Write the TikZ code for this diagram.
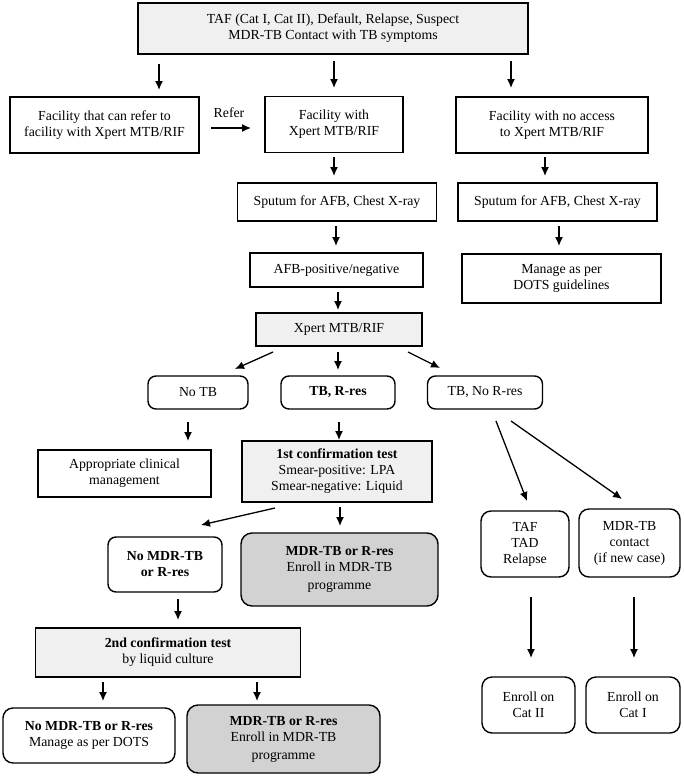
\documentclass[tikz,border=0pt]{standalone}
\usepackage{fontspec}
\setmainfont{Liberation Serif}
\usetikzlibrary{arrows.meta}
\definecolor{lightfill}{HTML}{F0F0F0}
\definecolor{darkfill}{HTML}{D2D2D2}
\begin{document}
\begin{tikzpicture}[x=1pt,y=-1pt,
  box/.style={draw, line width=1.4pt, align=center, inner sep=0pt,
    font=\fontsize{13.8pt}{16pt}\selectfont},
  sqbox/.style={box},
  graybox/.style={box, fill=lightfill},
  rbox/.style={box, rounded corners=8pt},
  dbox/.style={box, rounded corners=11pt, fill=darkfill},
  arr/.style={line width=1.3pt, -{Latex[length=9pt,width=8pt]}},
  lbl/.style={font=\fontsize{13.8pt}{16pt}\selectfont, inner sep=0pt}
]
\useasboundingbox (0,0) rectangle (684,777);

% nodes
\node[graybox, minimum width=390, minimum height=51] (top) at (333,28.5)
  {TAF (Cat I, Cat II), Default, Relapse, Suspect\\MDR-TB Contact with TB symptoms};
\node[sqbox, minimum width=189, minimum height=56] (refbox) at (104.5,125)
  {Facility that can refer to\\facility with Xpert MTB/RIF};
\node[sqbox, minimum width=138, minimum height=56] (xfac) at (334,124.5)
  {Facility with\\Xpert MTB/RIF};
\node[sqbox, minimum width=192, minimum height=56] (nofac) at (552,125)
  {Facility with no access\\to Xpert MTB/RIF};
\node[sqbox, minimum width=199, minimum height=38] (spL) at (337,202)
  {Sputum for AFB, Chest X-ray};
\node[sqbox, minimum width=199, minimum height=38] (spR) at (557.5,202)
  {Sputum for AFB, Chest X-ray};
\node[sqbox, minimum width=173, minimum height=34] (afb) at (336.5,270)
  {AFB-positive/negative};
\node[sqbox, minimum width=199, minimum height=49] (manage) at (561.5,278.5)
  {Manage as per\\DOTS guidelines};
\node[graybox, minimum width=166, minimum height=33] (xpert) at (339,329.5)
  {Xpert MTB/RIF};
\node[rbox, minimum width=100, minimum height=33] (notb) at (198,392.5)
  {No TB};
\node[rbox, minimum width=114, minimum height=33] (tbr) at (338,392.5)
  {\textbf{TB, R-res}};
\node[rbox, minimum width=115, minimum height=33] (tbnor) at (485,392.5)
  {TB, No R-res};
\node[sqbox, minimum width=173, minimum height=47] (appr) at (124.5,473.5)
  {Appropriate clinical\\management};
\node[graybox, minimum width=190, minimum height=61] (conf1) at (337,471.5)
  {\textbf{1st confirmation test}\\Smear-positive: LPA\\Smear-negative: Liquid};
\node[rbox, minimum width=114, minimum height=55] (nomdr1) at (165,564.5)
  {\textbf{No MDR-TB}\\\textbf{or R-res}};
\node[dbox, minimum width=197, minimum height=73] (mdr1) at (339.5,569.5)
  {\textbf{MDR-TB or R-res}\\Enroll in MDR-TB\\[2pt]programme};
\node[rbox, rounded corners=10pt, minimum width=88, minimum height=66] (taf) at (525,544)
  {TAF\\TAD\\Relapse};
\node[rbox, rounded corners=10pt, minimum width=101, minimum height=68] (contact) at (629.5,543)
  {MDR-TB\\contact\\(if new case)};
\node[graybox, minimum width=265, minimum height=49] (conf2) at (168,652.5)
  {\textbf{2nd confirmation test}\\by liquid culture};
\node[rbox, rounded corners=10pt, minimum width=172, minimum height=55] (nomdr2) at (89,735.5)
  {\textbf{No MDR-TB or R-res}\\Manage as per DOTS};
\node[dbox, minimum width=193, minimum height=68] (mdr2) at (283.5,739)
  {\textbf{MDR-TB or R-res}\\Enroll in MDR-TB\\[2pt]programme};
\node[rbox, rounded corners=10pt, minimum width=93, minimum height=56] (cat2) at (528.5,705)
  {Enroll on\\Cat II};
\node[rbox, rounded corners=10pt, minimum width=94, minimum height=56] (cat1) at (633,705)
  {Enroll on\\Cat I};

% arrow end points
\coordinate (a1s) at (159,64);  \coordinate (a1e) at (159,90);
\coordinate (a2s) at (334,61);  \coordinate (a2e) at (334,88);
\coordinate (a3s) at (511,61);  \coordinate (a3e) at (511,88);
\coordinate (a4s) at (211,128); \coordinate (a4e) at (251,128);
\coordinate (a5s) at (334,157); \coordinate (a5e) at (334,176);
\coordinate (a6s) at (545,157); \coordinate (a6e) at (545,176);
\coordinate (a7s) at (336,226); \coordinate (a7e) at (336,246);
\coordinate (a8s) at (559,226); \coordinate (a8e) at (559,246);
\coordinate (a9s) at (338,292); \coordinate (a9e) at (338,310);
\coordinate (a10s) at (273,352); \coordinate (a10e) at (235,369);
\coordinate (a11s) at (338,352); \coordinate (a11e) at (338,370);
\coordinate (a12s) at (408,352); \coordinate (a12e) at (440,368);
\coordinate (a13s) at (188,422); \coordinate (a13e) at (188,441);
\coordinate (a14s) at (339,422); \coordinate (a14e) at (339,440);
\coordinate (a15s) at (496,421); \coordinate (a15e) at (527,501);
\coordinate (a16s) at (511,421); \coordinate (a16e) at (622,499);
\coordinate (a17s) at (275,508); \coordinate (a17e) at (201,525);
\coordinate (a18s) at (340,507); \coordinate (a18e) at (340,526);
\coordinate (a19s) at (178,599); \coordinate (a19e) at (178,620);
\coordinate (a20s) at (531,597); \coordinate (a20e) at (531,658);
\coordinate (a21s) at (634,597); \coordinate (a21e) at (634,658);
\coordinate (a22s) at (103,682); \coordinate (a22e) at (103,701);
\coordinate (a23s) at (257,682); \coordinate (a23e) at (257,701);

\foreach \i in {1,...,23} {\draw[arr] (a\i s) -- (a\i e);}

\node[lbl] (referlbl) at (229,113) {Refer};
\end{tikzpicture}
\end{document}
